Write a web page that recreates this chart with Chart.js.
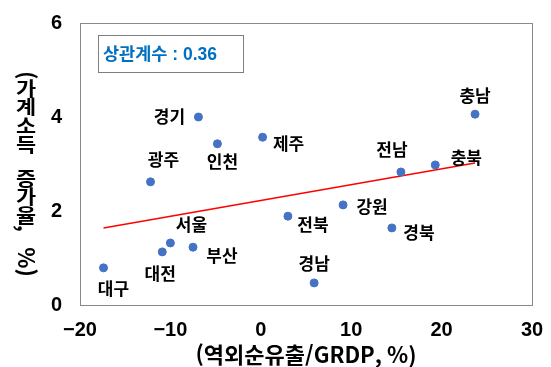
<!DOCTYPE html>
<html lang="ko">
<head>
<meta charset="utf-8">
<script src="https://cdn.jsdelivr.net/npm/chart.js@4/dist/chart.umd.min.js"></script>
<style>
  html, body { margin: 0; padding: 0; background: #fff; }
  #wrap { width: 551px; height: 367px; }
</style>
</head>
<body>
<div id="wrap"><canvas id="scatterChart" width="551" height="367"></canvas></div>
<script>
var regions = ['대구', '대전', '서울', '부산', '광주', '경기', '인천', '제주', '전북', '경남', '강원', '경북', '전남', '충북', '충남'];
var outflow = [-17.4, -10.9, -10.0, -7.5, -12.2, -6.9, -4.8, 0.2, 3.0, 5.9, 9.1, 14.5, 15.5, 19.3, 23.7];
var incomeGrowth = [0.79, 1.13, 1.32, 1.23, 2.62, 4.0, 3.43, 3.57, 1.89, 0.47, 2.13, 1.64, 2.83, 2.98, 4.06];
var trendX = [-17.4, 23.7];
var trendY = [1.64, 3.02];
var xTicks = [-20, -10, 0, 10, 20, 30];
var yTicks = [0, 2, 4, 6];
var corrText = '상관계수 : 0.36';
var xTitle = '(역외순유출/GRDP, %)';
var yTitle = '(가계소득 증가율, %)';

// where each region name sits relative to its dot, in px
var labelOffsets = {
  '대구': [10, 21], '대전': [-2, 22], '서울': [21, -18], '부산': [29, 8],
  '광주': [13, -22], '경기': [-29, 0], '인천': [5, 18], '제주': [26, 6],
  '전북': [25, 8], '경남': [0, -19], '강원': [29, 2], '경북': [27, 5],
  '전남': [-9, -22], '충북': [31, -7], '충남': [0, -19]
};

var KR = '"Noto Sans CJK KR", sans-serif';
var MIXED = '"Liberation Sans", "Noto Sans CJK KR", sans-serif';

var points = outflow.map(function (x, i) { return { x: x, y: incomeGrowth[i] }; });
var trend = trendX.map(function (x, i) { return { x: x, y: trendY[i] }; });

function fmtNum(v) {
  return v < 0 ? '\u2212' + Math.abs(v) : String(v);
}

// stacked vertical title: hangul upright (a little wide), latin turned sideways
function drawVerticalText(ctx, text, cx, top, size) {
  var y = top;
  var step = size * 0.98;
  ctx.textAlign = 'center';
  ctx.textBaseline = 'middle';
  for (var ch of text) {
    if (/[\uAC00-\uD7A3]/.test(ch)) {
      ctx.font = 'bold ' + size + 'px ' + KR;
      ctx.save();
      ctx.translate(cx, y + step / 2);
      ctx.scale(1.15, 1);
      ctx.fillText(ch, 0, 0);
      ctx.restore();
      y += step;
    } else if (ch === ' ') {
      y += size * 0.8;
    } else {
      ctx.font = 'bold ' + (size + 3) + 'px ' + KR;
      var w = ctx.measureText(ch).width;
      ctx.save();
      ctx.translate(cx, y + w / 2);
      ctx.rotate(Math.PI / 2);
      ctx.fillText(ch, 0, 0);
      ctx.restore();
      y += w;
    }
  }
}

var extras = {
  id: 'extras',
  afterDatasetsDraw: function (chart) {
    var ctx = chart.ctx;
    var area = chart.chartArea;
    ctx.save();

    // plot frame
    ctx.strokeStyle = '#898989';
    ctx.lineWidth = 1;
    ctx.strokeRect(Math.round(area.left) + 0.5, Math.round(area.top) + 0.5,
      Math.round(area.right - area.left), Math.round(area.bottom - area.top));

    // region names
    var meta = chart.getDatasetMeta(1);
    ctx.fillStyle = '#000';
    ctx.font = 'bold 17px ' + KR;
    ctx.textAlign = 'center';
    ctx.textBaseline = 'middle';
    meta.data.forEach(function (pt, i) {
      var off = labelOffsets[regions[i]];
      ctx.fillText(regions[i], pt.x + off[0], pt.y + off[1]);
    });

    // correlation box
    ctx.strokeStyle = '#7f7f7f';
    ctx.strokeRect(98.5, 35.5, 145, 37);
    ctx.fillStyle = '#0070C0';
    ctx.font = 'bold 17.5px ' + MIXED;
    ctx.textAlign = 'left';
    ctx.fillText(corrText, 103, 55);

    // y axis title
    ctx.fillStyle = '#000';
    drawVerticalText(ctx, yTitle, 26, 71, 19);

    ctx.restore();
  }
};

var ctx = document.getElementById('scatterChart').getContext('2d');
var chart = new Chart(ctx, {
  type: 'scatter',
  data: {
    datasets: [{
      type: 'line',
      label: 'trend',
      data: trend,
      borderColor: '#FF0000',
      borderWidth: 1.5,
      pointRadius: 0,
      fill: false,
      order: 2
    }, {
      label: 'regions',
      data: points,
      backgroundColor: '#4472C4',
      borderColor: '#4472C4',
      pointRadius: 4,
      order: 1
    }]
  },
  options: {
    responsive: false,
    animation: false,
    layout: { padding: { left: 0, top: 23, right: 19, bottom: 0 } },
    plugins: {
      legend: { display: false },
      tooltip: { enabled: false }
    },
    scales: {
      x: {
        type: 'linear',
        min: -20,
        max: 30,
        afterBuildTicks: function (scale) {
          scale.ticks = xTicks.map(function (v) { return { value: v }; });
        },
        afterFit: function (scale) {
          scale.height = 62;
          scale.paddingLeft = 0;
          scale.paddingRight = 0;
        },
        grid: { display: false, drawTicks: false },
        border: { display: false },
        ticks: {
          padding: 13,
          color: '#000',
          font: { family: MIXED, size: 20, weight: 'bold' },
          callback: fmtNum
        },
        title: {
          display: true,
          text: xTitle,
          color: '#000',
          font: { family: KR, size: 22, weight: 'bold' },
          padding: { top: 0, bottom: -1 }
        }
      },
      y: {
        type: 'linear',
        min: 0,
        max: 6,
        afterBuildTicks: function (scale) {
          scale.ticks = yTicks.map(function (v) { return { value: v }; });
        },
        afterFit: function (scale) {
          scale.width = 80;
          scale.paddingTop = 0;
          scale.paddingBottom = 0;
        },
        grid: { display: false, drawTicks: false },
        border: { display: false },
        ticks: {
          padding: 18,
          color: '#000',
          font: { family: MIXED, size: 20, weight: 'bold' },
          callback: fmtNum
        }
      }
    }
  },
  plugins: [extras]
});
</script>
</body>
</html>
